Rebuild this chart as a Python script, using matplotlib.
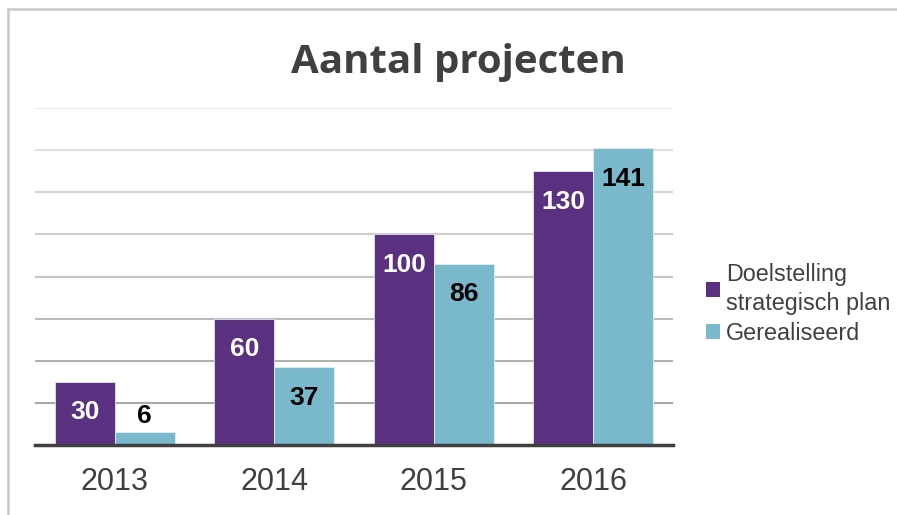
import numpy as np
import matplotlib
matplotlib.use("Agg")
import matplotlib.pyplot as plt
from matplotlib.lines import Line2D
from matplotlib.patches import Patch

years = ["2013", "2014", "2015", "2016"]
doel = [30, 60, 100, 130]
gerealiseerd = [6, 37, 86, 141]
series_names = ["Doelstelling\nstrategisch plan", "Gerealiseerd"]

purple = "#5A3080"
blue = "#7AB8CC"
text_col = "#404040"

fig = plt.figure(figsize=(8.97, 5.15), dpi=100)
ax = fig.add_axes([35 / 897, 70 / 515, 638 / 897, 337 / 515])

x = np.arange(len(years))
w = 0.375
b1 = ax.bar(x - w / 2, doel, w, color=purple, edgecolor="#e8e0f0", linewidth=0.6, zorder=3)
b2 = ax.bar(x + w / 2, gerealiseerd, w, color=blue, edgecolor="#e0f0f5", linewidth=0.6, zorder=3)

ax.set_xlim(-0.5, 3.5)
ax.set_ylim(0, 160)
ax.set_yticks(np.arange(20, 161, 20))
ax.set_xticks(x)
ax.set_xticklabels(years, fontsize=22, color=text_col, family="Liberation Sans")
ax.tick_params(axis="x", length=0, pad=16)
ax.tick_params(axis="y", length=0, labelleft=False)
for s in ["top", "right", "left"]:
    ax.spines[s].set_visible(False)
ax.spines["bottom"].set_color("#404040")
ax.spines["bottom"].set_linewidth(2.5)
ax.spines["bottom"].set_zorder(4)

ax.grid(axis="y", zorder=0, linewidth=1.5)
grid_cols = np.linspace(0.66, 0.91, 8)
for gl, c in zip(ax.yaxis.get_gridlines(), grid_cols):
    gl.set_color((c, c, c))

for bars, vals, col in [(b1, doel, "white"), (b2, gerealiseerd, "black")]:
    for r, v in zip(bars, vals):
        cx = r.get_x() + r.get_width() / 2
        if v < 15:
            ax.annotate(str(v), (cx, v), xytext=(0, 12), textcoords="offset points",
                        ha="center", va="center", fontsize=19, fontweight="bold",
                        color="black", family="Liberation Sans", zorder=5)
        else:
            ax.annotate(str(v), (cx, v), xytext=(0, -22), textcoords="offset points",
                        ha="center", va="center", fontsize=19, fontweight="bold",
                        color=col, family="Liberation Sans", zorder=5)

fig.text(458 / 897, 1 - 62 / 515, "Aantal projecten", ha="center", va="center",
         fontsize=29, fontweight="bold", color=text_col, family="Open Sans")

handles = [Patch(facecolor=purple), Patch(facecolor=blue)]
leg = fig.legend(handles, series_names, loc="center left",
                 bbox_to_anchor=(706 / 897, 1 - 304 / 515), frameon=False,
                 prop={"family": "Liberation Sans", "size": 16.8},
                 handlelength=0.62, handleheight=0.62, handletextpad=0.25,
                 labelspacing=0.3, borderpad=0, borderaxespad=0)
for t in leg.get_texts():
    t.set_color(text_col)
    t.set_linespacing(1.35)

border = "#c8c8c8"
fig.add_artist(Line2D([8 / 897, 8 / 897], [0, 1 - 9 / 515], color=border, linewidth=1.8))
fig.add_artist(Line2D([8 / 897, 1], [1 - 9 / 515, 1 - 9 / 515], color=border, linewidth=1.8))

fig.savefig("out.png", dpi=100)
